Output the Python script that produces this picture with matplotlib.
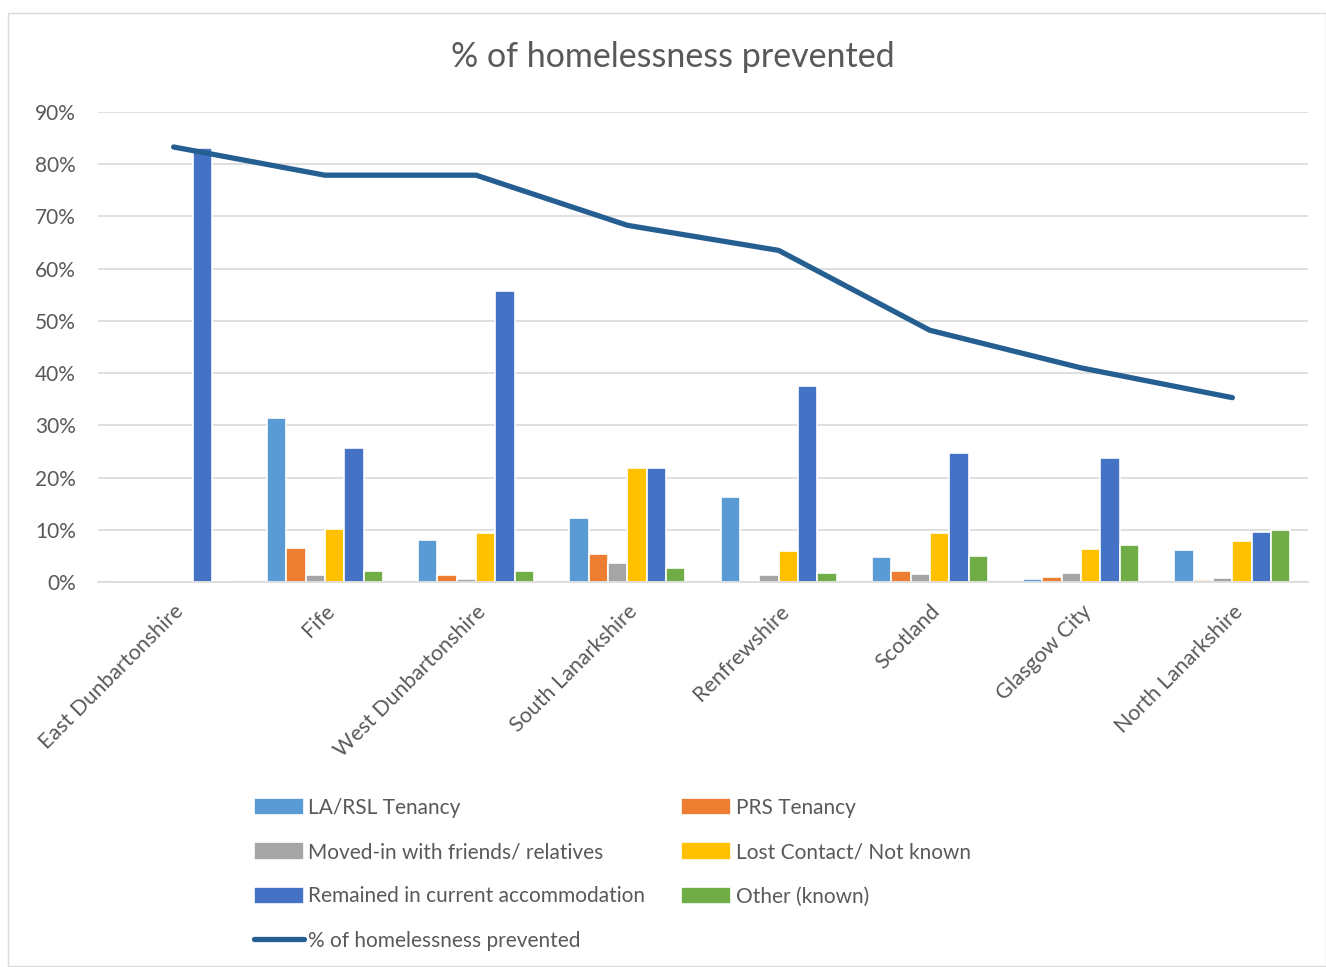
import numpy as np
import matplotlib.pyplot as plt
from matplotlib.patches import Rectangle
from matplotlib.ticker import PercentFormatter

plt.rcParams['font.family'] = ['Lato', 'DejaVu Sans']

# Data (percent)
areas = ["East Dunbartonshire", "Fife", "West Dunbartonshire", "South Lanarkshire",
         "Renfrewshire", "Scotland", "Glasgow City", "North Lanarkshire"]
la_rsl = [0, 31.5, 8.0, 12.3, 16.2, 4.8, 0.6, 6.1]
prs = [0, 6.5, 1.4, 5.4, 0, 2.2, 1.0, 0.3]
moved_in = [0, 1.4, 0.6, 3.6, 1.3, 1.6, 1.7, 0.8]
lost_contact = [0, 10.2, 9.4, 21.9, 6.0, 9.3, 6.3, 7.9]
remained = [83.2, 25.7, 55.8, 21.9, 37.5, 24.7, 23.8, 9.6]
other = [0, 2.1, 2.1, 2.7, 1.7, 5.0, 7.1, 10.0]
prevented = [83.3, 77.9, 77.9, 68.3, 63.5, 48.2, 41.0, 35.3]

series = [
    ("LA/RSL Tenancy", la_rsl, "#5B9BD5"),
    ("PRS Tenancy", prs, "#ED7D31"),
    ("Moved-in with friends/ relatives", moved_in, "#A5A5A5"),
    ("Lost Contact/ Not known", lost_contact, "#FFC000"),
    ("Remained in current accommodation", remained, "#4472C4"),
    ("Other (known)", other, "#70AD47"),
]

fig = plt.figure(figsize=(13.26, 9.67), dpi=100)
fig.patches.append(Rectangle((8 / 1326, 1 - 966 / 967), 1318 / 1326, 953 / 967,
                             transform=fig.transFigure, fill=False,
                             edgecolor="#D9D9D9", linewidth=1))
ax = fig.add_axes([98 / 1326, 1 - 582 / 967, 1210 / 1326, 470 / 967])

x = np.arange(len(areas))
slot = 0.128
bars = []
for i, (name, vals, col) in enumerate(series):
    b = ax.bar(x + (i - 2.5) * slot, vals, width=slot, color=col,
               edgecolor="white", linewidth=1.2, label=name, zorder=2)
    bars.append(b)

line, = ax.plot(x, prevented, color="#255E91", linewidth=3.8,
                solid_capstyle="round", label="% of homelessness prevented", zorder=3)

ax.set_xlim(-0.5, len(areas) - 0.5)
ax.set_ylim(0, 90)
ax.set_yticks(np.arange(0, 91, 10))
ax.yaxis.set_major_formatter(PercentFormatter(decimals=0))
ax.grid(axis="y", color="#D9D9D9", linewidth=1.2, zorder=0)
ax.set_axisbelow(True)
for s in ["top", "right", "left"]:
    ax.spines[s].set_visible(False)
ax.spines["bottom"].set_color("#D9D9D9")
ax.spines["bottom"].set_linewidth(1.2)
ax.tick_params(axis="both", length=0, labelcolor="#595959")
ax.tick_params(axis="y", pad=16, labelsize=15)
ax.set_xticks(x)
ax.set_xticklabels(areas, rotation=45, ha="right", rotation_mode="anchor", fontsize=15.5)
ax.tick_params(axis="x", pad=14)

fig.text(673 / 1326, 1 - 57 / 967, "% of homelessness prevented", ha="center",
         va="center", fontsize=24.5, color="#595959")

handles = [bars[0], bars[2], bars[4], line, bars[1], bars[3], bars[5]]
labels = [h.get_label() for h in handles]
fig.legend(handles, labels, ncol=2, loc="upper left",
           bbox_to_anchor=(235 / 1326, 1 - 779 / 967), frameon=False,
           fontsize=15, labelcolor="#595959", handlelength=2.4, handleheight=0.9,
           handletextpad=0.2, labelspacing=1.17, columnspacing=1.75)

plt.savefig("out.png", dpi=100)
